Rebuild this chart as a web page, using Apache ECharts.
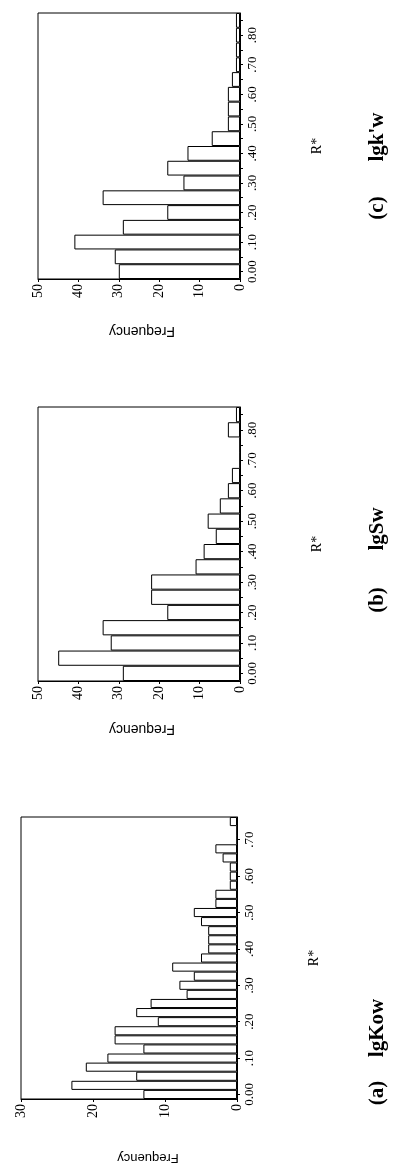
<!DOCTYPE html>
<html>
<head>
<meta charset="utf-8">
<style>
  html, body { margin: 0; padding: 0; background: #fff; }
  #chart { width: 397px; height: 1171px; }
</style>
<script src="https://cdn.jsdelivr.net/npm/echarts@6/dist/echarts.min.js"></script>
</head>
<body>
<div id="chart"></div>
<script>
// R* bins (bin midpoints) for panel (a), width 0.025
const binsA = ["0.00", ".025", ".05", ".075", ".10", ".125", ".15", ".175", ".20", ".225",
  ".25", ".275", ".30", ".325", ".35", ".375", ".40", ".425", ".45", ".475",
  ".50", ".525", ".55", ".575", ".60", ".625", ".65", ".675", ".70", ".725", ".75"];
// R* bins for panels (b) and (c), width 0.05
const binsBC = ["0.00", ".05", ".10", ".15", ".20", ".25", ".30", ".35", ".40",
  ".45", ".50", ".55", ".60", ".65", ".70", ".75", ".80", ".85"];

const lgKowFreq = [13, 23, 14, 21, 18, 13, 17, 17, 11, 14, 12, 7, 8, 6, 9, 5,
  4, 4, 4, 5, 6, 3, 3, 1, 1, 1, 2, 3, 0, 0, 1];
const lgSwFreq = [29, 45, 32, 34, 18, 22, 22, 11, 9, 6, 8, 5, 3, 2, 0, 0, 3, 1];
const lgkwFreq = [30, 31, 41, 29, 18, 34, 14, 18, 13, 7, 3, 3, 3, 2, 1, 1, 1, 1];

const freqMaxA = 30;
const freqMaxBC = 50;

const panels = [
  { bins: binsBC, freq: lgkwFreq, max: freqMaxBC, grid: { left: 38, top: 13, width: 202, height: 266 },
    tag: "(c)", name: "lgk'w", tagY: 208, nameY: 137, labelEvery: 1, tickEvery: 0,
    freqPos: [142, 331], freqSize: 14 },
  { bins: binsBC, freq: lgSwFreq, max: freqMaxBC, grid: { left: 38, top: 407, width: 202, height: 274 },
    tag: "(b)", name: "lgSw", tagY: 600, nameY: 529, labelEvery: 1, tickEvery: 0,
    freqPos: [142, 729], freqSize: 14 },
  { bins: binsA, freq: lgKowFreq, max: freqMaxA, grid: { left: 21, top: 817, width: 216, height: 282 },
    tag: "(a)", name: "lgKow", tagY: 1093, nameY: 1028, labelEvery: 3, tickEvery: 3,
    freqPos: [148, 1158], freqSize: 13 }
];

const serif = "Liberation Serif";
const sans = "Liberation Sans";

const grids = [], xAxes = [], yAxes = [], series = [], graphics = [];

panels.forEach(function (p, i) {
  grids.push(Object.assign({ show: true, borderColor: "#000", borderWidth: 1,
    backgroundColor: "transparent" }, p.grid));

  xAxes.push({
    gridIndex: i, type: "value", inverse: true, min: 0, max: p.max, interval: 10,
    position: "bottom",
    splitLine: { show: false },
    axisLine: { show: true, lineStyle: { color: "#000", width: 1 } },
    axisTick: { show: true, length: 3, lineStyle: { color: "#000" } },
    axisLabel: { rotate: 90, color: "#000", fontFamily: serif, fontSize: 14, margin: 5 }
  });

  yAxes.push({
    gridIndex: i, type: "category", data: p.bins, position: "right", boundaryGap: true,
    axisLine: { show: true, lineStyle: { color: "#000", width: 1 } },
    axisTick: { show: true, alignWithLabel: true, interval: p.tickEvery, length: 3,
      lineStyle: { color: "#000" } },
    axisLabel: { interval: p.labelEvery, rotate: 90, color: "#000", fontFamily: serif,
      fontSize: 13, margin: 6 },
    name: "R*", nameLocation: "middle", nameGap: 70, nameRotate: 90,
    nameTextStyle: { color: "#000", fontFamily: serif, fontSize: 14 }
  });

  series.push({
    type: "bar", xAxisIndex: i, yAxisIndex: i, data: p.freq,
    barCategoryGap: 0, silent: true,
    itemStyle: { color: "#fff", borderColor: "#000", borderWidth: 1 }
  });

  // value-axis title, printed upside down as in the scan
  graphics.push({
    type: "text", x: p.freqPos[0], y: p.freqPos[1], rotation: Math.PI,
    style: { text: "Frequency", font: p.freqSize + "px '" + sans + "'", fill: "#000",
      textAlign: "center", textVerticalAlign: "middle" }
  });
  graphics.push({
    type: "text", x: 378, y: p.tagY, rotation: Math.PI / 2,
    style: { text: p.tag, font: "bold 21px '" + serif + "'", fill: "#000",
      textAlign: "center", textVerticalAlign: "middle" }
  });
  graphics.push({
    type: "text", x: 378, y: p.nameY, rotation: Math.PI / 2,
    style: { text: p.name, font: "bold 21px '" + serif + "'", fill: "#000",
      textAlign: "center", textVerticalAlign: "middle" }
  });
});

const chart = echarts.init(document.getElementById("chart"));
chart.setOption({
  animation: false,
  grid: grids,
  xAxis: xAxes,
  yAxis: yAxes,
  series: series,
  graphic: graphics
});
</script>
</body>
</html>
